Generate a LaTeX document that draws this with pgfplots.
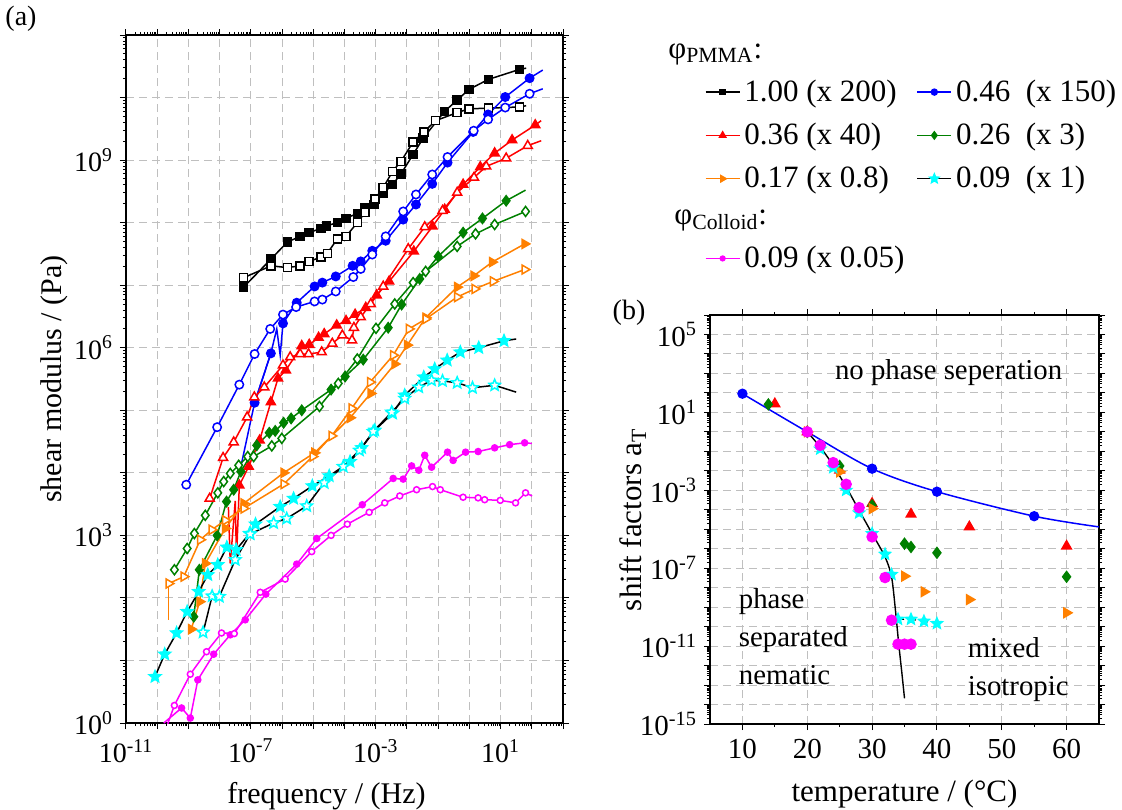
\documentclass[border=0pt]{standalone}
\usepackage{pgfplots}
\pgfplotsset{compat=1.18}
\usepackage{fontspec}
\setmainfont{Liberation Serif}

\definecolor{cblue}{RGB}{0,0,255}
\definecolor{cred}{RGB}{255,0,0}
\definecolor{cgreen}{RGB}{0,128,0}
\definecolor{corange}{RGB}{255,128,0}
\definecolor{ccyan}{RGB}{0,255,255}
\definecolor{cmag}{RGB}{255,0,255}

% filled five-pointed star
\pgfdeclareplotmark{fstar}{%
  \pgfpathmoveto{\pgfpointpolar{90}{\pgfplotmarksize}}%
  \pgfpathlineto{\pgfpointpolar{126}{0.45\pgfplotmarksize}}%
  \pgfpathlineto{\pgfpointpolar{162}{\pgfplotmarksize}}%
  \pgfpathlineto{\pgfpointpolar{198}{0.45\pgfplotmarksize}}%
  \pgfpathlineto{\pgfpointpolar{234}{\pgfplotmarksize}}%
  \pgfpathlineto{\pgfpointpolar{270}{0.45\pgfplotmarksize}}%
  \pgfpathlineto{\pgfpointpolar{306}{\pgfplotmarksize}}%
  \pgfpathlineto{\pgfpointpolar{342}{0.45\pgfplotmarksize}}%
  \pgfpathlineto{\pgfpointpolar{18}{\pgfplotmarksize}}%
  \pgfpathlineto{\pgfpointpolar{54}{0.45\pgfplotmarksize}}%
  \pgfpathclose
  \pgfusepathqfillstroke
}

\pgfplotsset{
  data/.style={line width=0.75pt, forget plot},
  gridded/.style={
    grid=major,
    grid style={gray!50, line width=0.5pt, dash pattern=on 4pt off 2.5pt},
    tick align=outside,
    major tick length=3pt, minor tick length=1.6pt,
    axis line style={line width=0.8pt},
    every tick/.style={black, line width=0.5pt},
  },
}

\begin{document}
\begin{tikzpicture}
\useasboundingbox (0pt,0pt) rectangle (561pt,-404.5pt);

% ---------------- (a) shear modulus master curves ----------------
\begin{axis}[
  gridded,
  at={(63pt,-361.5pt)}, anchor=south west,
  scale only axis, width=218.5pt, height=344pt,
  xmode=log, ymode=log,
  xmin=1e-11, xmax=1e3, ymin=1, ymax=1e11,
  xtick={1e-11,1e-10,1e-9,1e-8,1e-7,1e-6,1e-5,1e-4,1e-3,1e-2,1e-1,1,10,100,1000},
  xticklabels={10\textsuperscript{-11},,,,10\textsuperscript{-7},,,,10\textsuperscript{-3},,,,10\textsuperscript{1},,},
  ytick={1,10,100,1e3,1e4,1e5,1e6,1e7,1e8,1e9,1e10,1e11},
  yticklabels={10\textsuperscript{0},,,10\textsuperscript{3},,,10\textsuperscript{6},,,10\textsuperscript{9},,},
  tick label style={font=\fontsize{14}{16}\selectfont},
  xticklabel style={yshift=-1.5pt},
  label style={font=\fontsize{15}{17}\selectfont},
  xlabel={frequency / (Hz)},
  ylabel={shear modulus / (Pa)},
  xlabel style={xshift=-9pt, yshift=-3pt},
  ylabel style={yshift=-3.5pt},
  legend columns=2,
  legend cell align=left,
  legend style={
    draw=none, fill=none,
    at={(axis description cs:1.31,1.0)}, anchor=north west,
    font=\fontsize{15.5}{17}\selectfont,
    row sep=5.4pt,
    /tikz/every even column/.append style={column sep=4pt},
  },
]

% legend
\addlegendimage{empty legend}
\addlegendentry{\makebox[0pt][l]{\hspace*{-38pt}φ\textsubscript{PMMA}:}}
\addlegendimage{empty legend}
\addlegendentry{}
\addlegendimage{black, line width=0.7pt, mark=square*, mark size=1.3pt}
\addlegendentry{1.00 (x 200)}
\addlegendimage{cblue, line width=0.7pt, mark=*, mark size=1.5pt}
\addlegendentry{0.46\ \ (x 150)}
\addlegendimage{cred, line width=0.7pt, mark=triangle*, mark size=1.8pt}
\addlegendentry{0.36 (x 40)}
\addlegendimage{cgreen, line width=0.7pt, mark=diamond*, mark size=1.8pt}
\addlegendentry{0.26\ \ (x 3)}
\addlegendimage{corange, line width=0.7pt, mark=triangle*, mark size=1.8pt, mark options={rotate=-90}}
\addlegendentry{0.17 (x 0.8)}
\addlegendimage{black, line width=0.7pt, mark=fstar, mark size=2.4pt, mark options={fill=ccyan, draw=ccyan}}
\addlegendentry{0.09\ \ (x 1)}
\addlegendimage{empty legend}
\addlegendentry{\makebox[0pt][l]{\hspace*{-35pt}φ\textsubscript{Colloid}:}}
\addlegendimage{empty legend}
\addlegendentry{}
\addlegendimage{cmag, line width=0.7pt, mark=*, mark size=1.2pt}
\addlegendentry{0.09 (x 0.05)}

% phi_PMMA = 1.00, G' (filled) and G'' (open)
\addplot[data, black, mark=square*, mark size=2pt] coordinates {
(5.89e-8,9.33e6) (4.47e-7,2.63e7) (1.48e-6,4.90e7) (3.80e-6,6.03e7) (7.41e-6,6.92e7)
(1.78e-5,8.13e7) (2.69e-5,8.91e7) (5.89e-5,1.0e8) (1.12e-4,1.17e8) (2.57e-4,1.41e8)
(4.57e-4,1.70e8) (8.71e-4,1.95e8) (1.74e-3,2.95e8) (3.47e-3,4.07e8) (6.46e-3,6.03e8)
(1.58e-2,1.23e9) (3.31e-2,2.24e9) (0.162,6.03e9) (0.407,9.12e9) (0.977,1.35e10)
(4.07,1.95e10) (40.7,2.82e10)};
\addplot[data, black] coordinates {(40.7,2.82e10) (66.1,2.95e10)};
\addplot[data, black, mark=square*, mark size=2pt, mark options={fill=white}] coordinates {
(5.89e-8,1.32e7) (4.47e-7,2.04e7) (1.48e-6,1.91e7) (3.80e-6,2.04e7) (7.41e-6,2.40e7)
(1.78e-5,2.82e7) (2.82e-5,3.24e7) (5.89e-5,5.50e7) (1.12e-4,6.03e7) (2.57e-4,1.0e8)
(4.57e-4,1.45e8) (9.55e-4,2.40e8) (1.74e-3,3.63e8) (3.47e-3,6.61e8) (6.46e-3,9.55e8)
(1.58e-2,1.95e9) (3.47e-2,2.82e9) (8.32e-2,4.27e9) (0.407,5.75e9) (0.977,6.61e9)
(4.07,6.76e9) (40.7,7.08e9)};
\addplot[data, black] coordinates {(40.7,7.08e9) (66.1,7.41e9)};

% phi_PMMA = 0.46
\addplot[data, cblue] coordinates {
(4.79e-8,1.26e4) (1.32e-7,1.32e5) (4.37e-7,8.13e5) (6.76e-7,2.0e6) (8.71e-7,7.59e5) (1.07e-6,2.45e6)};
\addplot[data, cblue, mark=*, mark size=2.1pt] coordinates {
(1.32e-7,1.32e5) (4.37e-7,8.13e5)};
\addplot[data, cblue, mark=*, mark size=2.1pt] coordinates {
(1.07e-6,2.45e6) (2.95e-6,5.25e6) (1.10e-5,9.55e6) (1.95e-5,1.10e7) (5.25e-5,1.38e7)
(1.82e-4,2.04e7) (3.31e-4,2.40e7) (7.76e-4,3.55e7) (2.09e-3,5.13e7) (7.59e-3,1.12e8)
(1.95e-2,1.95e8) (6.46e-2,4.17e8) (0.2,9.12e8) (1.32,2.82e9) (3.98,5.37e9)
(14.1,1.02e10) (85.1,2.04e10)};
\addplot[data, cblue] coordinates {(85.1,2.04e10) (224,2.75e10)};
\addplot[data, cblue, mark=*, mark size=2.1pt, mark options={fill=white}] coordinates {
(8.51e-10,6.46e3) (8.32e-9,5.37e4) (4.27e-8,2.57e5) (1.32e-7,7.94e5) (4.17e-7,2.0e6)
(1.07e-6,3.39e6) (2.82e-6,4.47e6) (1.10e-5,5.50e6) (1.95e-5,5.89e6) (5.25e-5,7.94e6)
(1.91e-4,1.35e7) (3.31e-4,1.82e7) (7.76e-4,3.09e7) (2.09e-3,6.03e7) (7.59e-3,1.51e8)
(1.95e-2,2.82e8) (6.46e-2,5.89e8) (0.2,1.12e9) (1.38,2.95e9) (3.98,4.47e9)
(14.1,6.92e9) (85.1,1.15e10)};
\addplot[data, cblue] coordinates {(85.1,1.15e10) (224,1.38e10)};

% phi_PMMA = 0.36
\addplot[data, cred] coordinates {
(1.91e-8,2.82e3) (2.19e-8,355) (3.16e-8,3.55e3) (3.47e-8,417) (4.27e-8,6.31e3)};
\addplot[data, cred, mark=triangle*, mark size=2.6pt] coordinates {
(4.27e-8,6.31e3) (8.51e-8,1.26e4) (1.91e-7,3.31e4) (4.37e-7,1.35e5) (7.41e-7,3.24e5)
(1.32e-6,4.37e5) (4.27e-6,1.07e6) (7.41e-6,1.12e6) (1.48e-5,1.45e6) (2.24e-5,1.66e6)
(5.62e-5,2.29e6) (1.12e-4,2.69e6) (2.19e-4,3.39e6) (4.79e-4,4.37e6) (1.07e-3,6.92e6)
(2.69e-3,1.15e7) (1.66e-2,3.47e7) (6.61e-2,8.71e7) (0.162,1.62e8) (0.631,4.07e8)
(2.24,7.76e8) (6.46,1.29e9) (23.4,2.09e9) (129,3.63e9)};
\addplot[data, cred] coordinates {(129,3.63e9) (200,4.27e9)};
\addplot[data, cred, mark=triangle*, mark size=2.6pt, mark options={fill=white}] coordinates {
(4.79e-9,3.89e3) (1.29e-8,1.74e4) (2.82e-8,3.09e4) (7.59e-8,7.76e4) (1.29e-7,1.62e5)
(2.69e-7,2.34e5) (1.07e-6,5.25e5) (1.82e-6,7.08e5) (3.80e-6,7.94e5) (7.08e-6,7.94e5)
(1.86e-5,8.51e5) (4.07e-5,1.17e6) (8.51e-5,1.58e6) (1.74e-4,1.32e6) (2.0e-4,2.09e6)
(3.31e-4,3.09e6) (6.92e-4,5.01e6) (1.74e-3,9.55e6) (1.10e-2,3.80e7) (3.72e-2,8.51e7)
(0.138,1.55e8) (0.407,3.02e8) (1.41,5.25e8) (3.47,7.94e8) (15.1,1.07e9) (74.1,1.70e9)};
\addplot[data, cred] coordinates {(74.1,1.70e9) (200,2.04e9)};

% phi_PMMA = 0.26
\addplot[data, cgreen, mark=diamond*, mark size=2.5pt] coordinates {
(1.48e-9,50.1) (2.24e-9,282) (8.32e-9,1.0e3) (1.66e-8,3.47e3) (2.82e-8,5.37e3)
(4.79e-8,1.05e4) (1.55e-7,2.75e4) (3.89e-7,4.37e4) (6.03e-7,4.68e4) (1.12e-6,6.31e4)
(1.95e-6,7.41e4) (4.27e-6,1.0e5) (3.72e-5,2.14e5) (1.05e-4,3.47e5) (3.98e-4,6.46e5)
(2.51e-3,2.09e6) (6.76e-3,4.90e6) (2.57e-2,1.26e7) (0.1,2.88e7) (0.631,6.92e7)
(2.63,1.17e8) (15.1,2.24e8)};
\addplot[data, cgreen] coordinates {(15.1,2.24e8) (63.1,3.31e8)};
\addplot[data, cgreen, mark=diamond*, mark size=2.5pt, mark options={fill=white}] coordinates {
(3.55e-10,282) (9.12e-10,617) (1.55e-9,1.07e3) (3.47e-9,2.09e3) (8.71e-9,4.79e3)
(1.35e-8,7.24e3) (2.19e-8,9.77e3) (4.07e-8,1.32e4) (7.94e-8,1.82e4) (1.23e-7,1.82e4)
(4.68e-7,2.69e4) (9.77e-7,3.55e4) (1.58e-5,1.15e5) (6.31e-5,2.69e5) (2.57e-4,6.61e5)
(1.02e-3,2.04e6) (4.07e-3,5.01e6) (1.58e-2,1.10e7) (3.98e-2,1.66e7) (0.407,4.17e7)
(1.58,6.61e7) (6.46,9.33e7) (63.1,1.51e8)};

% phi_PMMA = 0.17
\addplot[data, corange, mark=triangle*, mark size=2.6pt, mark options={rotate=-90}] coordinates {
(1.23e-9,31.6) (2.29e-9,87.1) (3.47e-9,355) (1.51e-8,1.29e3) (5.89e-8,3.24e3)
(1.12e-6,1.0e4) (1.10e-5,2.09e4) (1.51e-4,7.59e4) (6.92e-4,1.86e5) (4.07e-3,5.50e5)
(1.02e-2,1.10e6) (3.98e-2,3.02e6) (0.407,9.33e6) (1.38,1.41e7) (5.37,2.34e7) (58.9,4.57e7)};
\addplot[data, corange] coordinates {(2.34e-10,44.7) (2.34e-10,170)};
\addplot[data, corange, mark=triangle*, mark size=2.6pt, mark options={rotate=-90, fill=white}] coordinates {
(2.34e-10,170) (7.08e-10,219) (2.40e-9,851) (5.62e-9,1.23e3) (1.51e-8,1.74e3)
(5.89e-8,2.69e3) (1.12e-6,6.61e3) (9.55e-6,1.82e4) (3.89e-5,3.89e4) (1.70e-4,1.07e5)
(6.61e-4,2.82e5) (3.63e-3,7.59e5) (1.17e-2,2.0e6) (3.98e-2,2.88e6) (0.407,6.46e6)
(1.48,8.71e6) (5.75,1.15e7) (58.9,1.78e7)};

% phi_PMMA = 0.09
\addplot[data, black, mark=fstar, mark size=3pt, mark options={fill=ccyan, draw=ccyan}] coordinates {
(8.51e-11,5.50) (1.74e-10,12.6) (4.17e-10,27.5) (9.12e-10,60.3) (2.14e-9,126)
(4.17e-9,234) (8.71e-9,339) (1.70e-8,646) (3.39e-8,589) (9.12e-8,1.07e3)
(1.41e-7,1.51e3) (8.71e-7,2.88e3) (2.34e-6,3.89e3) (9.33e-6,6.17e3) (3.24e-5,8.91e3)
(1.51e-4,1.51e4) (3.55e-4,2.51e4) (9.33e-4,4.79e4) (3.47e-3,8.91e4) (8.51e-3,1.74e5)
(3.47e-2,3.39e5) (7.76e-2,4.57e5) (0.195,6.31e5) (0.513,8.51e5) (2.0,1.0e6) (12.9,1.29e6)};
\addplot[data, black] coordinates {(12.9,1.29e6) (31.6,1.38e6)};
\addplot[data, black, mark=fstar, mark size=3pt, mark options={fill=white, draw=ccyan}] coordinates {
(2.95e-9,28.2) (5.75e-9,107) (9.77e-9,105) (3.16e-8,407) (9.55e-8,1.05e3)
(5.37e-7,1.58e3) (1.41e-6,1.86e3) (6.17e-6,2.95e3) (2.24e-5,6.92e3) (9.12e-5,1.26e4)
(3.02e-4,2.29e4) (8.32e-4,4.57e4) (3.24e-3,9.33e4) (8.51e-3,1.55e5) (2.40e-2,2.34e5)
(6.17e-2,3.02e5) (0.138,2.95e5) (0.407,2.75e5) (1.26,2.29e5) (6.46,2.51e5)};
\addplot[data, black] coordinates {(6.46,2.51e5) (31.6,1.95e5)};

% phi_Colloid = 0.09
\addplot[data, cmag] coordinates {(1.62e-10,1.0) (6.03e-10,1.74)};
\addplot[data, cmag, mark=*, mark size=1.5pt] coordinates {
(6.03e-10,1.74) (1.15e-9,1.20) (2.0e-9,4.90) (6.46e-9,12.6) (2.19e-8,25.7)
(6.61e-8,44.7) (3.02e-7,115) (2.95e-6,347) (1.29e-5,891) (3.72e-4,3.09e3)
(3.63e-3,8.13e3) (7.59e-3,7.94e3) (1.41e-2,1.29e4) (2.40e-2,1.10e4) (3.72e-2,1.91e4)
(6.17e-2,1.23e4) (0.2,2.14e4) (0.302,1.58e4) (0.759,2.14e4) (1.91,2.19e4)
(6.46,2.51e4) (19.5,2.82e4) (58.9,3.02e4)};
\addplot[data, cmag] coordinates {(58.9,3.02e4) (100,2.95e4)};
\addplot[data, cmag] coordinates {(1.58e-10,0.631) (3.55e-10,1.91)};
\addplot[data, cmag, mark=*, mark size=1.5pt, mark options={fill=white}] coordinates {
(3.55e-10,1.91) (1.15e-9,6.03) (3.80e-9,13.8) (1.15e-8,27.5) (2.95e-8,26.9)
(2.0e-7,123) (1.26e-6,200) (8.91e-6,550) (3.72e-5,1.0e3) (1.23e-4,1.51e3)
(6.17e-4,2.34e3) (1.95e-3,3.31e3) (5.89e-3,4.27e3) (2.04e-2,5.37e3) (6.61e-2,6.03e3)
(0.117,5.37e3) (0.631,4.07e3) (1.91,3.98e3) (3.09,3.72e3) (9.77,3.63e3)
(30.2,3.31e3) (63.1,4.79e3)};
\addplot[data, cmag] coordinates {(63.1,4.79e3) (102,4.27e3)};
\end{axis}

% ---------------- (b) shift factors ----------------
\begin{axis}[
  gridded,
  at={(355pt,-362pt)}, anchor=south west,
  scale only axis, width=194.5pt, height=204.5pt,
  ymode=log,
  xmin=5, xmax=65, ymin=1e-15, ymax=1e6,
  xtick={10,20,30,40,50,60}, minor x tick num=1,
  /pgf/number format/assume math mode=true,
  ytick={1e-15,1e-14,1e-13,1e-12,1e-11,1e-10,1e-9,1e-8,1e-7,1e-6,1e-5,1e-4,1e-3,1e-2,1e-1,1,10,100,1e3,1e4,1e5,1e6},
  yticklabels={10\textsuperscript{-15},,,,10\textsuperscript{-11},,,,10\textsuperscript{-7},,,,10\textsuperscript{-3},,,,10\textsuperscript{1},,,,10\textsuperscript{5},},
  tick label style={font=\fontsize{14.5}{16}\selectfont},
  xticklabel style={yshift=-1pt},
  label style={font=\fontsize{15.5}{17}\selectfont},
  xlabel={temperature / (°C)},
  ylabel={shift factors a\textsubscript{T}},
  xlabel style={yshift=-4pt},
  ylabel style={yshift=-10pt},
]
\addplot[data, cblue, smooth] coordinates {
(10,91.2) (20,1.0) (30,1.29e-2) (40,8.51e-4) (55,4.68e-5) (65,1.32e-5)};
\addplot[data, cblue, only marks, mark=*, mark size=2.2pt] coordinates {
(10,91.2) (20,1.0) (30,1.29e-2) (40,8.51e-4) (55,4.68e-5)};
\addplot[data, black, smooth, line width=0.7pt] coordinates {
(20,1.0) (22,0.166) (24,1.91e-2) (26,1.48e-3) (28,9.33e-5) (30,6.03e-6)
(32,3.80e-7) (33,3.63e-8) (33.6,7.08e-10) (34.1,1.38e-11) (34.6,3.98e-13) (35,2.09e-14)};
\addplot[data, cred, only marks, mark=triangle*, mark size=2.7pt] coordinates {
(15,27.5) (20,1.0) (25,1.07e-2) (30,2.09e-4) (36,5.89e-5) (45,1.32e-5) (60,1.35e-6)};
\addplot[data, cgreen, only marks, mark=diamond*, mark size=2.6pt] coordinates {
(14,25.7) (20,1.0) (25,1.78e-2) (30,1.70e-4) (35,1.82e-6) (36,1.23e-6) (40,6.17e-7) (60,3.63e-8)};
\addplot[data, corange, only marks, mark=triangle*, mark size=2.7pt, mark options={rotate=-90}] coordinates {
(20,1.0) (25,8.9e-3) (30,1.15e-4) (35,3.89e-8) (38,6.17e-9) (45,2.45e-9) (60,5.13e-10)};
\addplot[data, black, dashed, line width=0.6pt] coordinates {
(34,2.40e-10) (36,2.40e-10) (38,1.91e-10) (40,1.45e-10)};
\addplot[data, only marks, mark=fstar, mark size=2.8pt, mark options={fill=ccyan, draw=ccyan}] coordinates {
(22,0.132) (24,1.45e-2) (26,1.0e-3) (28,6.92e-5) (30,6.03e-6) (32,5.25e-7) (33,4.79e-8)
(34,2.40e-10) (36,2.40e-10) (38,1.91e-10) (40,1.45e-10)};
\addplot[data, cmag, only marks, mark=*, mark size=2.5pt] coordinates {
(20,1.0) (22,0.204) (24,2.63e-2) (26,2.04e-3) (28,1.29e-4) (30,4.07e-6) (32,3.31e-8)
(33,2.14e-10) (34,1.26e-11) (35,1.26e-11) (36,1.26e-11)};

\node[anchor=center, font=\fontsize{14.4}{17}\selectfont] at (axis cs:41.8,1.17e3) {no phase seperation};
\node[anchor=north west, align=left, inner sep=0pt, font=\fontsize{14.4}{19}\selectfont] at (axis cs:9.4,1e-8) {phase\\separated\\nematic};
\node[anchor=north west, align=left, inner sep=0pt, font=\fontsize{14.4}{19}\selectfont] at (axis cs:44.7,3e-11) {mixed\\isotropic};
\end{axis}

\node[font=\fontsize{14}{16}\selectfont] at (10.5pt,-9.5pt) {(a)};
\node[font=\fontsize{14}{16}\selectfont] at (314.5pt,-156.5pt) {(b)};
\end{tikzpicture}
\end{document}
